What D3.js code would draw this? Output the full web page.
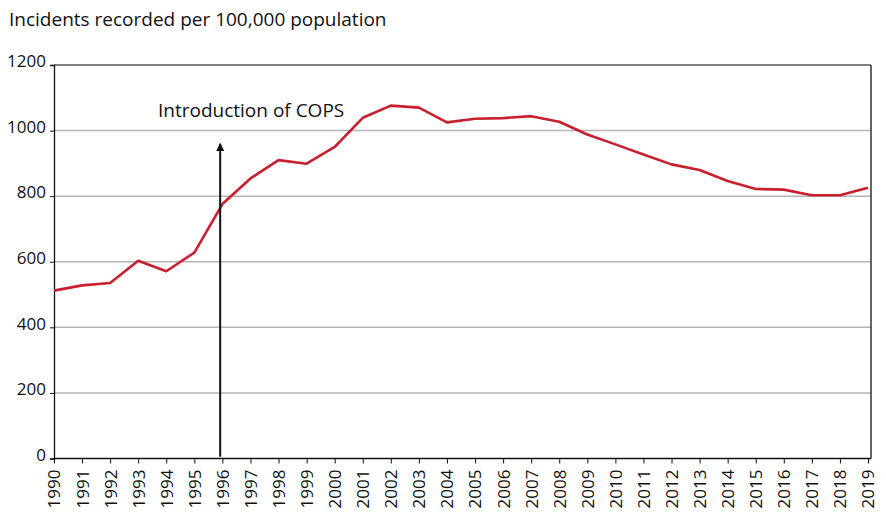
<!DOCTYPE html>
<html><head><meta charset="utf-8">
<script src="https://cdn.jsdelivr.net/npm/d3@7"></script>
<style>
  html,body{margin:0;background:#fff}
  svg{display:block;font-family:"Open Sans",sans-serif}
</style></head>
<body><svg width="886" height="517"></svg>
<script>
// data
const years = d3.range(1990, 2020);
const incidents = [512, 528, 535, 603, 571, 628, 776, 854, 910, 899, 950, 1039, 1076, 1070, 1025,
  1036, 1038, 1044, 1027, 988, 958, 927, 897, 880, 846, 822, 820, 803, 803, 826];
const yTicks = [0, 200, 400, 600, 800, 1000, 1200];
const arrowYear = 1995.92;
const arrowFrom = 5, arrowTo = 960;

const svg = d3.select('svg');
const L = 54, R = 868, T = 65, B = 458.5;

const x = d3.scaleLinear().domain([1990, 2019]).range([L, R]);
const y = d3.scaleLinear().domain([0, 1200]).range([B, T]);

svg.append('text').attr('x', 9).attr('y', 26)
  .attr('font-size', 19).attr('fill', '#111')
  .text('Incidents recorded per 100,000 population');

// gridlines
svg.append('g').selectAll('line')
  .data(yTicks.filter(d => d > 0))
  .join('line')
  .attr('x1', L).attr('x2', R + 3)
  .attr('y1', d => y(d)).attr('y2', d => y(d))
  .attr('stroke', d => d === 1200 ? '#555' : '#b4b4b4')
  .attr('stroke-width', 1.5);

// right frame
svg.append('line').attr('x1', R + 3).attr('x2', R + 3).attr('y1', T).attr('y2', B)
  .attr('stroke', '#111').attr('stroke-width', 1.3);

// y axis
const gy = svg.append('g').attr('transform', `translate(${L},0)`)
  .call(d3.axisLeft(y).tickValues(yTicks).tickSize(4).tickPadding(4).tickFormat(d3.format('d')));
gy.select('.domain').attr('stroke', '#111').attr('stroke-width', 1.3);
gy.selectAll('.tick line').attr('stroke', '#111');
gy.selectAll('text').attr('font-size', 17).attr('font-family', '"Open Sans",sans-serif').attr('fill', '#111')
  .attr('dy', '0.1em');

// x axis
const gx = svg.append('g').attr('transform', `translate(0,${B})`)
  .call(d3.axisBottom(x).tickValues(years).tickSize(5).tickFormat(d3.format('d')));
gx.select('.domain').attr('stroke', '#111').attr('stroke-width', 1.3).attr('d', `M${L},0H${R + 3}`);
gx.selectAll('.tick line').attr('stroke', '#111');
gx.selectAll('text')
  .attr('font-size', 17).attr('font-family', '"Open Sans",sans-serif').attr('fill', '#111')
  .attr('transform', 'rotate(-90)')
  .attr('text-anchor', 'end').attr('dy', '0.35em').attr('x', -11).attr('y', 0);

// series
svg.append('path')
  .datum(incidents)
  .attr('fill', 'none').attr('stroke', '#c8202f').attr('stroke-width', 2.6)
  .attr('stroke-linejoin', 'round')
  .attr('d', d3.line().x((d, i) => x(years[i])).y(d => y(d)));

// annotation arrow
svg.append('defs').append('marker').attr('id', 'ah')
  .attr('viewBox', '0 0 10 10').attr('refX', 9).attr('refY', 5)
  .attr('markerWidth', 8).attr('markerHeight', 8).attr('markerUnits', 'userSpaceOnUse')
  .attr('orient', 'auto')
  .append('path').attr('d', 'M0,0L10,5L0,10Z').attr('fill', '#111');
svg.append('line')
  .attr('x1', x(arrowYear)).attr('x2', x(arrowYear))
  .attr('y1', y(arrowFrom)).attr('y2', y(arrowTo))
  .attr('stroke', '#111').attr('stroke-width', 2).attr('marker-end', 'url(#ah)');
svg.append('text').attr('x', 158).attr('y', 117)
  .attr('font-size', 19).attr('fill', '#111')
  .text('Introduction of COPS');
</script></body></html>
